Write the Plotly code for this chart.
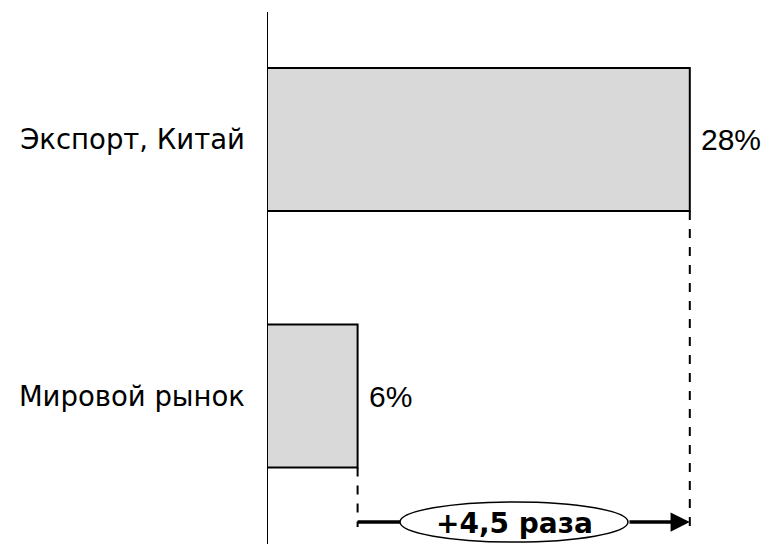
import plotly.graph_objects as go

categories = ["Мировой рынок", "Экспорт, Китай"]
values = [6, 28]
value_labels = ["6%", "28%"]
ratio_label = "+4,5 раза"

W, H = 771, 544
AX_PX = 267          # pixel x of value axis
PX_PER_UNIT = 15.1   # pixels per percent
xr = [0, (W - AX_PX) / PX_PER_UNIT]
CAT_PX = 256.5       # pixels between category centres
top_idx_px = 139.5   # pixel y of top category centre
y1 = 1 + top_idx_px / CAT_PX
y0 = y1 - H / CAT_PX

def ypix(p):
    return y1 - p / CAT_PX

fig = go.Figure()
fig.add_trace(go.Bar(
    y=categories, x=values, orientation="h",
    width=0.557,
    marker=dict(color="#d9d9d9", line=dict(color="black", width=2)),
    hoverinfo="skip",
))

font_main = "DejaVu Sans, Verdana, sans-serif"

# value labels
for c, v, t in zip(categories, values, value_labels):
    fig.add_annotation(x=v, y=c, text=t, showarrow=False, xanchor="left",
                       xshift=9, font=dict(size=30, color="black",
                                           family="Liberation Sans, Arial, sans-serif"))

# axis line
fig.add_shape(type="line", xref="x", yref="paper", x0=0, x1=0,
              y0=0, y1=1 - 12 / H, line=dict(color="black", width=2))

arrow_y = ypix(522)
bar_half = 0.557 / 2
dash_end = ypix(527)
for i, v in enumerate(values):
    fig.add_shape(type="line", xref="x", yref="y", x0=v, x1=v,
                  y0=i - bar_half, y1=dash_end,
                  line=dict(color="black", width=2, dash="dash"))

ell_x0 = (400 - AX_PX) / PX_PER_UNIT
ell_x1 = (628 - AX_PX) / PX_PER_UNIT
# left arrow segment
fig.add_shape(type="line", xref="x", yref="y", x0=values[0], x1=ell_x0,
              y0=arrow_y, y1=arrow_y, line=dict(color="black", width=3.5))
# ellipse
fig.add_shape(type="circle", xref="x", yref="y", x0=ell_x0, x1=ell_x1,
              y0=ypix(502), y1=ypix(542), fillcolor="white",
              line=dict(color="black", width=1.5))
# right arrow segment with head
fig.add_annotation(x=values[1], y=arrow_y, ax=ell_x1, ay=arrow_y,
                   xref="x", yref="y", axref="x", ayref="y", text="",
                   showarrow=True, arrowhead=2, arrowsize=1.1, arrowwidth=3.5,
                   arrowcolor="black", standoff=0)
fig.add_annotation(x=(ell_x0 + ell_x1) / 2, y=arrow_y, text="<b>" + ratio_label + "</b>",
                   showarrow=False, yshift=-1,
                   font=dict(size=28, color="black", family=font_main))

fig.update_layout(
    width=W, height=H,
    margin=dict(l=AX_PX, r=0, t=0, b=0),
    plot_bgcolor="white", paper_bgcolor="white",
    showlegend=False,
    xaxis=dict(range=xr, visible=False, fixedrange=True),
    yaxis=dict(range=[y0, y1], type="category", categoryorder="array",
               categoryarray=categories, showline=False, showgrid=False,
               zeroline=False, ticks="", ticklabelstandoff=21, fixedrange=True,
               tickfont=dict(size=27.5, color="black", family=font_main)),
)

fig.write_html("out.html", config={"displayModeBar": False, "staticPlot": True},
               post_script="document.body.style.margin='0px';document.body.style.overflow='hidden';")
